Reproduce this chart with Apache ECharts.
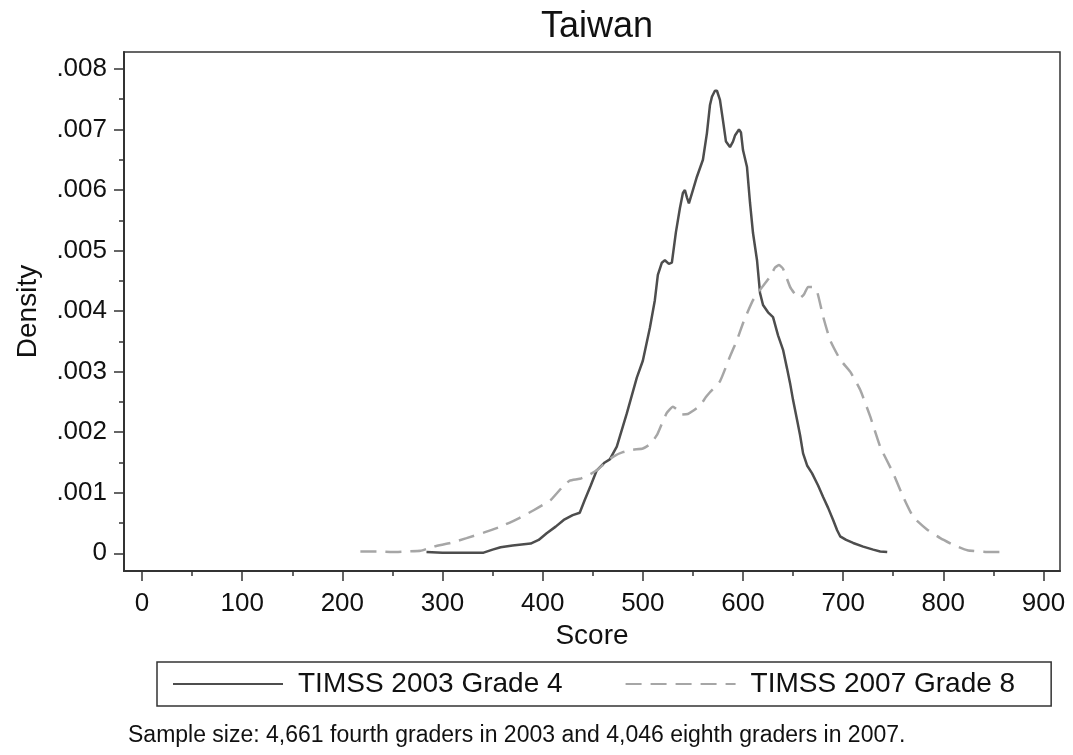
<!DOCTYPE html>
<html>
<head>
<meta charset="utf-8">
<script src="https://cdn.jsdelivr.net/npm/echarts@6/dist/echarts.min.js"></script>
<style>
html,body{margin:0;padding:0;background:#fff;}
#chart{width:1073px;height:755px;}
</style>
</head>
<body>
<div id="chart"></div>
<script>
const titleText = 'Taiwan';
const seriesNames = ['TIMSS 2003 Grade 4', 'TIMSS 2007 Grade 8'];
const caption = 'Sample size: 4,661 fourth graders in 2003 and 4,046 eighth graders in 2007.';

const xTicks = [0, 100, 200, 300, 400, 500, 600, 700, 800, 900];
const xMinorTicks = [50, 150, 250, 350, 450, 550, 650, 750, 850];
const yTicks = [0, 0.001, 0.002, 0.003, 0.004, 0.005, 0.006, 0.007, 0.008];
const yTickLabels = ['0', '.001', '.002', '.003', '.004', '.005', '.006', '.007', '.008'];
const yMinorTicks = [0.0005, 0.0015, 0.0025, 0.0035, 0.0045, 0.0055, 0.0065, 0.0075];

const grade4Score = [284,300,320,341,350,358,370,388,396,404,413,421,430,437,442,448,454,462,467,474,484,494,500,507,512,515,519,522,526,529,533,537,540,542,544,546,550,554,560,564,567,569,572,574,577,580,583,587,590,592,596,598,600,604,607,610,614,617,620,625,630,635,640,644,647,650,654,657,660,664,669,675,680,685,690,694,697,703,710,720,730,737,744];
const grade4Density = [0.00002,0.00001,0.00001,0.00001,0.00006,0.0001,0.00013,0.00016,0.00022,0.00033,0.00044,0.00055,0.00063,0.00067,0.00088,0.00112,0.00137,0.0015,0.00155,0.00176,0.00231,0.0029,0.00318,0.00372,0.00418,0.0046,0.0048,0.00484,0.00478,0.0048,0.0053,0.0057,0.00595,0.006,0.00588,0.00578,0.006,0.00622,0.0065,0.00694,0.0074,0.00754,0.00764,0.00764,0.00749,0.00715,0.0068,0.00671,0.0068,0.0069,0.007,0.00695,0.00666,0.00638,0.00579,0.00529,0.00484,0.0043,0.0041,0.00398,0.0039,0.0036,0.00336,0.00305,0.00281,0.00253,0.0022,0.00195,0.00165,0.00145,0.00132,0.00112,0.00093,0.00075,0.00055,0.00038,0.00028,0.00022,0.00017,0.00011,0.00006,0.00003,0.00002];

const grade8Score = [218,235,250,265,278,291,308,324,341,358,375,391,408,420,427,437,447,454,463,471,480,490,500,507,514,520,524,530,535,539,545,549,557,563,567,577,587,594,600,604,610,617,627,632,636,640,647,652,657,661,665,669,674,680,687,697,707,717,727,737,750,760,770,784,797,810,824,844,864];
const grade8Density = [0.00003,0.00003,0.00002,0.00003,0.00004,0.00011,0.00017,0.00025,0.00034,0.00044,0.00057,0.00071,0.00088,0.0011,0.0012,0.00123,0.0013,0.00137,0.0015,0.0016,0.00167,0.00171,0.00173,0.0018,0.00195,0.00218,0.00232,0.00242,0.00236,0.00229,0.0023,0.00234,0.00244,0.00258,0.00266,0.00284,0.00325,0.00352,0.0038,0.00396,0.00418,0.00435,0.00457,0.00472,0.00476,0.0047,0.0044,0.00428,0.00422,0.00428,0.0044,0.0044,0.00432,0.00391,0.00352,0.0032,0.003,0.0027,0.00226,0.00176,0.00132,0.00093,0.0006,0.00039,0.00025,0.00014,0.00005,0.00002,0.00002];

const FONT = '"Liberation Sans", Arial, sans-serif';
const axisColor = '#333';

const chart = echarts.init(document.getElementById('chart'), null, {renderer: 'canvas'});

function pairs(xs, ys) { return xs.map((x, i) => [x, ys[i]]); }

const option = {
  backgroundColor: '#fff',
  animation: false,
  title: {
    text: titleText, left: 592, top: 4, textAlign: 'center',
    textStyle: {fontFamily: FONT, fontSize: 36, fontWeight: 'normal', color: '#111'}
  },
  grid: {
    left: 124, right: 13, top: 52, bottom: 184,
    containLabel: false, outerBoundsMode: 'none',
    show: true, borderColor: axisColor, borderWidth: 1.5, backgroundColor: '#fff'
  },
  legend: {
    left: 157, top: 662,
    data: seriesNames,
    itemWidth: 110, itemHeight: 14, itemGap: 62,
    borderColor: axisColor, borderWidth: 1.5,
    padding: [8, 36, 8, 15],
    itemStyle: {color: 'rgba(0,0,0,0)', borderWidth: 0, opacity: 0},
    textStyle: {fontFamily: FONT, fontSize: 28, color: '#111', padding: [0, 0, 0, 10]}
  },
  xAxis: [{
    type: 'value', min: -18, max: 916.5,
    name: 'Score', nameLocation: 'middle', nameGap: 48,
    nameTextStyle: {fontFamily: FONT, fontSize: 28, color: '#111'},
    axisLine: {show: true, onZero: false, lineStyle: {color: axisColor, width: 2}},
    axisTick: {show: true, customValues: xTicks, length: 10, lineStyle: {color: axisColor, width: 1.5}},
    axisLabel: {customValues: xTicks, fontFamily: FONT, fontSize: 26, color: '#111', margin: 20},
    splitLine: {show: false}
  }, {
    type: 'value', min: -18, max: 916.5, position: 'bottom', gridIndex: 0,
    axisLine: {show: false, onZero: false},
    axisTick: {show: true, customValues: xMinorTicks, length: 5, lineStyle: {color: axisColor, width: 1.5}},
    axisLabel: {show: false},
    splitLine: {show: false}
  }],
  yAxis: [{
    type: 'value', min: -0.000293, max: 0.00828,
    name: 'Density', nameLocation: 'middle', nameGap: 82, nameRotate: 90,
    nameTextStyle: {fontFamily: FONT, fontSize: 28, color: '#111'},
    axisLine: {show: true, onZero: false, lineStyle: {color: axisColor, width: 2}},
    axisTick: {show: true, customValues: yTicks, length: 10, lineStyle: {color: axisColor, width: 1.5}},
    axisLabel: {
      customValues: yTicks, fontFamily: FONT, fontSize: 26, color: '#111', margin: 17,
      formatter: function (v) { return yTickLabels[Math.round(v / 0.001)]; }
    },
    splitLine: {show: false}
  }, {
    type: 'value', min: -0.000293, max: 0.00828, position: 'left', gridIndex: 0,
    axisLine: {show: false, onZero: false},
    axisTick: {show: true, customValues: yMinorTicks, length: 5, lineStyle: {color: axisColor, width: 1.5}},
    axisLabel: {show: false},
    splitLine: {show: false}
  }],
  series: [{
    name: seriesNames[0], type: 'line', xAxisIndex: 0, yAxisIndex: 0,
    data: pairs(grade4Score, grade4Density),
    showSymbol: false, symbol: 'none', smooth: false,
    lineStyle: {color: '#4d4d4d', width: 2.5},
    itemStyle: {color: '#4d4d4d'}
  }, {
    name: seriesNames[1], type: 'line', xAxisIndex: 0, yAxisIndex: 0,
    data: pairs(grade8Score, grade8Density),
    showSymbol: false, symbol: 'none', smooth: 0.15,
    lineStyle: {color: '#a6a6a6', width: 2.5, type: [16, 9]},
    itemStyle: {color: '#a6a6a6'}
  }],
  graphic: [{
    type: 'text', left: 128, top: 724,
    style: {text: caption, fontFamily: FONT, fontSize: 23, fill: '#111'}
  }]
};
chart.setOption(option);
</script>
</body>
</html>
